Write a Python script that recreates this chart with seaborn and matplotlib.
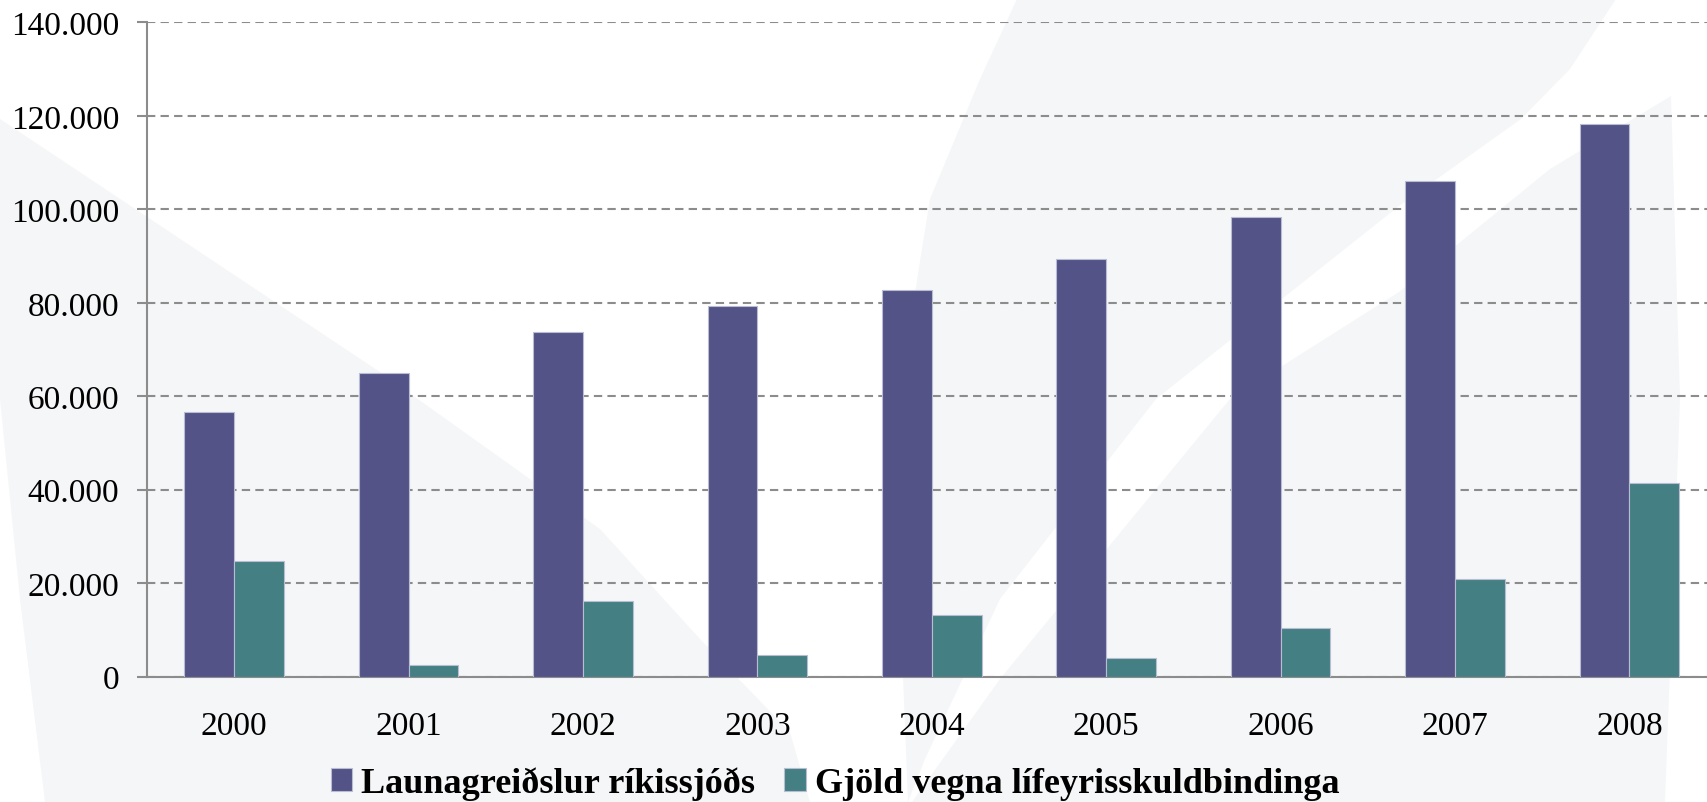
import matplotlib
matplotlib.use("Agg")
import matplotlib.pyplot as plt
from matplotlib.patches import Polygon
from matplotlib.ticker import FuncFormatter, FixedLocator
import seaborn as sns
import pandas as pd

# data (millions kr.)
years = ["2000", "2001", "2002", "2003", "2004", "2005", "2006", "2007", "2008"]
launagreidslur = [56600, 64900, 73700, 79200, 82700, 89400, 98300, 106100, 118200]
lifeyrir = [24800, 2500, 16300, 4600, 13300, 4000, 10500, 20800, 41500]
series_names = ["Launagreiðslur ríkissjóðs", "Gjöld vegna lífeyrisskuldbindinga"]
colors = ["#535388", "#437f83"]
y_ticks = [0, 20000, 40000, 60000, 80000, 100000, 120000, 140000]

df = pd.DataFrame({
    "ar": years * 2,
    "upphaed": launagreidslur + lifeyrir,
    "flokkur": [series_names[0]] * len(years) + [series_names[1]] * len(years),
})

sns.set_style("white")
plt.rcParams["font.family"] = ["Liberation Serif", "DejaVu Serif"]
plt.rcParams["text.color"] = "black"
plt.rcParams["xtick.color"] = "black"
plt.rcParams["ytick.color"] = "black"

fig = plt.figure(figsize=(17.08, 8.03), dpi=100)
fig.patch.set_facecolor("white")

# light grey watermark shapes behind everything (pixel coords -> figure coords)
W, H = 1708, 803
def fpoly(pts):
    return Polygon([(x / W, 1 - y / H) for x, y in pts], closed=True,
                   transform=fig.transFigure, facecolor="#f5f6f8",
                   edgecolor="none", zorder=-10)

fig.patches.append(fpoly([(0, 120), (380, 373), (600, 530), (700, 640), (790, 733),
                          (810, 803), (45, 803), (20, 600), (0, 400)]))
fig.patches.append(fpoly([(1017, 0), (1616, 0), (1570, 70), (1521, 120), (1399, 207),
                          (1156, 400), (1000, 600), (925, 760), (908, 803), (900, 600),
                          (898, 400), (930, 200), (980, 80)]))
fig.patches.append(fpoly([(1671, 97), (1680, 400), (1665, 803), (912, 803), (1000, 680),
                          (1230, 400), (1399, 293), (1550, 170)]))

ax = fig.add_axes([147 / W, 1 - 677.7 / H, 1569.6 / W, 654.4 / H])
ax.set_facecolor("none")

sns.barplot(data=df, x="ar", y="upphaed", hue="flokkur", palette=colors,
            width=0.57, saturation=1, edgecolor="#b9bdd2", linewidth=0.8,
            ax=ax, zorder=3)

ax.set_xlim(-0.5, len(years) - 0.5)
ax.set_ylim(0, 140000)
ax.set_yticks(y_ticks)
ax.yaxis.set_major_formatter(FuncFormatter(lambda v, p: f"{int(v):,}".replace(",", ".")))
ax.grid(axis="y", color="#8c8c8c", linestyle=(0, (4, 2.5)), linewidth=1.5, zorder=1)
ax.set_axisbelow(True)

for side in ["top", "right"]:
    ax.spines[side].set_visible(False)
for side in ["left", "bottom"]:
    ax.spines[side].set_color("#8c8c8c")
    ax.spines[side].set_linewidth(1.5)

ax.xaxis.set_minor_locator(FixedLocator([i - 0.5 for i in range(len(years))]))
ax.tick_params(axis="x", which="major", length=0, pad=24, labelsize=24)
ax.tick_params(axis="x", which="minor", length=7, width=1.5, color="#8c8c8c", direction="out")
ax.tick_params(axis="y", length=7, width=1.5, color="#8c8c8c", labelcolor="black",
               direction="out", pad=13, labelsize=24, left=True)
ax.set_xlabel("")
ax.set_ylabel("")

handles, labels = ax.get_legend_handles_labels()
ax.get_legend().remove()
fig.legend(handles, labels, loc="center", bbox_to_anchor=(835 / W, 1 - 784 / H),
           ncol=2, frameon=False, prop={"weight": "bold", "size": 26},
           handlelength=0.6, handleheight=0.6, handletextpad=0.25, columnspacing=0.8)

fig.savefig("out.png", dpi=100, facecolor="white")
